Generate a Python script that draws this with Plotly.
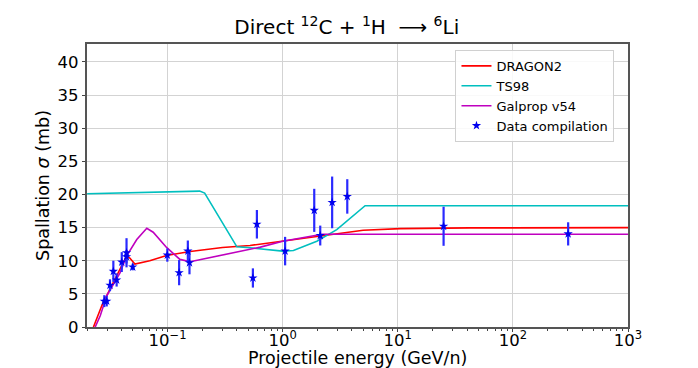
import plotly.graph_objects as go

# DRAGON2 cross section (mb) vs energy (GeV/n)
dragon_e = [0.0227, 0.0268, 0.0316, 0.0387, 0.044, 0.047, 0.052, 0.07, 0.098,
            0.157, 0.3, 0.52, 1.0, 2.1, 5.0, 10.5, 42.0, 1000.0]
dragon_xs = [0.0, 3.2, 5.7, 8.7, 10.7, 10.4, 9.5, 10.0, 10.8,
             11.4, 12.0, 12.3, 12.95, 13.8, 14.6, 14.85, 14.95, 15.0]

# TS98
ts98_e = [0.02, 0.1, 0.19, 0.21, 0.4, 0.52, 1.0, 1.24, 1.98, 2.95, 4.4, 5.2, 1000.0]
ts98_xs = [20.1, 20.4, 20.5, 20.2, 12.1, 11.95, 11.45, 11.55, 12.95, 14.7, 17.2, 18.3, 18.3]

# Galprop v54
galprop_e = [0.0235, 0.026, 0.0296, 0.0387, 0.044, 0.054, 0.066, 0.075, 0.098,
             0.128, 0.157, 0.3, 0.64, 1.0, 2.2, 1000.0]
galprop_xs = [0.0, 1.7, 4.7, 8.2, 10.7, 13.2, 14.9, 14.3, 12.0,
              10.2, 9.85, 10.9, 12.05, 12.95, 14.0, 14.0]

# data compilation
data_e = [0.0282, 0.0296, 0.0316, 0.0338, 0.0361, 0.040, 0.044, 0.044, 0.0498,
          0.0995, 0.126, 0.150, 0.155, 0.551, 0.597, 1.05, 1.88, 2.12, 2.69,
          3.64, 25.0, 302.0]
data_xs = [3.9, 3.9, 6.3, 8.4, 7.1, 9.8, 11.2, 10.6, 9.05,
           10.85, 8.2, 11.45, 9.7, 7.4, 15.5, 11.45, 17.6, 13.8, 18.8,
           19.7, 15.2, 14.05]
data_err = [0.9, 0.8, 0.9, 1.6, 1.0, 1.5, 2.2, 1.0, 0.5,
            1.0, 1.9, 1.6, 1.75, 1.45, 2.15, 2.15, 3.25, 1.5, 3.9,
            2.6, 2.95, 1.75]

x_ticks = [0.1, 1, 10, 100, 1000]
x_ticktext = ["10<sup>\u22121</sup>", "10<sup>0</sup>", "10<sup>1</sup>",
              "10<sup>2</sup>", "10<sup>3</sup>"]
y_ticks = [0, 5, 10, 15, 20, 25, 30, 35, 40]

FONT = "DejaVu Sans"

fig = go.Figure()

fig.add_trace(go.Scatter(x=dragon_e, y=dragon_xs, mode="lines", name="DRAGON2",
                         line=dict(color="#ff0000", width=1.6)))
fig.add_trace(go.Scatter(x=ts98_e, y=ts98_xs, mode="lines", name="TS98",
                         line=dict(color="#00bfbf", width=1.6)))
fig.add_trace(go.Scatter(x=galprop_e, y=galprop_xs, mode="lines", name="Galprop v54",
                         line=dict(color="#bf00bf", width=1.6)))
fig.add_trace(go.Scatter(
    x=data_e, y=data_xs, mode="markers", name="Data compilation",
    marker=dict(symbol="star", size=7, color="#0000ee"),
    error_y=dict(type="data", array=data_err, color="#2a2aff", thickness=2.2, width=0)
))

# minor ticks on the log axis
minor_vals = [k * 10 ** p for p in range(-2, 3) for k in range(2, 10)]

fig.update_xaxes(
    type="log", range=[-1.70, 3], automargin=False,
    tickvals=x_ticks, ticktext=x_ticktext,
    ticks="outside", ticklen=3.5, tickcolor="#444", ticklabelstandoff=-6,
    showgrid=True, gridcolor="#d3d3d3", gridwidth=1,
    showline=True, linecolor="#555", linewidth=1.5, mirror=True,
    minor=dict(tickvals=minor_vals, ticks="outside", ticklen=2, tickcolor="#444", showgrid=False),
    tickfont=dict(family=FONT, size=16.5, color="black"),
    zeroline=False,
)
fig.update_yaxes(
    range=[0, 42.7], tickvals=y_ticks, automargin=False,
    ticks="outside", ticklen=3.5, tickcolor="#444",
    showgrid=True, gridcolor="#d3d3d3", gridwidth=1,
    showline=True, linecolor="#555", linewidth=1.5, mirror=True,
    tickfont=dict(family=FONT, size=16.5, color="black"),
    title=dict(text="Spallation <i>\u03c3</i> (mb)", font=dict(family=FONT, size=17.5, color="black"),
               standoff=3),
    zeroline=False,
)

# x axis title as an annotation so it sits just under the tick labels
fig.add_annotation(
    text="Projectile energy (GeV/n)", xref="paper", yref="paper",
    x=0.5, y=0, xanchor="center", yanchor="middle", yshift=-31,
    showarrow=False, font=dict(family=FONT, size=17.5, color="black"),
)

# the page body adds an 8px offset, so the figure is a bit smaller than the window
fig.update_layout(
    width=690, height=360,
    margin=dict(l=79, r=70, t=36, b=41),
    plot_bgcolor="white", paper_bgcolor="white",
    title=dict(text="Direct <sup>12</sup>C + <sup>1</sup>H  \u27f6 <sup>6</sup>Li",
               x=0.491, xanchor="center", y=0.947, yanchor="middle",
               font=dict(family=FONT, size=20, color="black")),
    legend=dict(x=0.975, y=0.979, xanchor="right", yanchor="top",
                bgcolor="rgba(255,255,255,0.85)", bordercolor="#d0d0d0", borderwidth=1,
                font=dict(family=FONT, size=13, color="black"),
                tracegroupgap=0, itemwidth=30),
    showlegend=True,
)

fig.write_html("out.html")
